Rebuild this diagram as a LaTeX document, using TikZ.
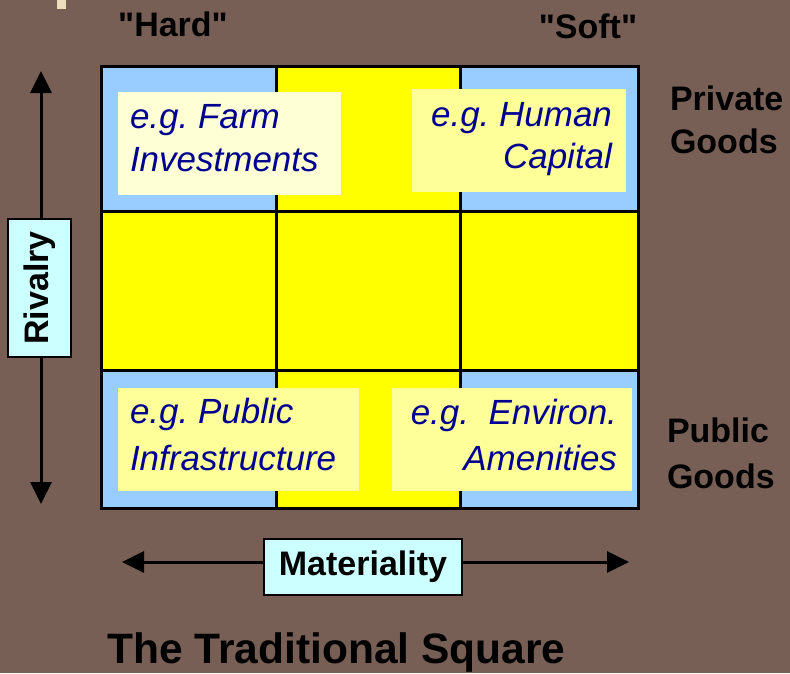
\documentclass[tikz,border=0pt]{standalone}
\usepackage{fontspec}
\setmainfont{Liberation Sans}
\newfontfamily\plainsans{Liberation Sans}
\usetikzlibrary{arrows.meta}
\frenchspacing
\definecolor{bgc}{HTML}{785F55}
\definecolor{cellblue}{HTML}{99CCFF}
\definecolor{cellyellow}{HTML}{FFFF00}
\definecolor{paleA}{HTML}{FFFFD5}
\definecolor{paleB}{HTML}{FFFF99}
\definecolor{navytext}{HTML}{000090}
\definecolor{cyanbox}{HTML}{CCFFFF}
\definecolor{markc}{HTML}{EEDDBB}
\tikzset{
  gridline/.style={line width=3pt, draw=black},
  palebox/.style={rectangle, inner sep=0pt, outer sep=0pt, draw=none},
  exline/.style={inner sep=0pt, outer sep=0pt, text=navytext, font=\fontsize{35}{42}\selectfont\itshape},
  lbl/.style={inner sep=0pt, outer sep=0pt, text=black, font=\fontsize{34}{40}\selectfont\bfseries},
  qlbl/.style={inner sep=0pt, outer sep=0pt, text=black, font=\plainsans\fontsize{34}{40}\selectfont\bfseries},
  axisbox/.style={rectangle, draw=black, line width=2.4pt, fill=cyanbox, inner sep=0pt, outer sep=0pt, font=\fontsize{34}{40}\selectfont\bfseries},
  axisarrow/.style={line width=3pt, -{Triangle[length=22pt, width=21pt]}},
}
\begin{document}
\begin{tikzpicture}[x=1pt,y=-1pt]
\fill[bgc] (0,0) rectangle (790,673);
\useasboundingbox (0,0) rectangle (790,673);
% small mark at top
\fill[markc] (57,0) rectangle (66,9);
% cells
\fill[cellyellow] (101,66) rectangle (638,508);
\fill[cellblue] (101,66) rectangle (276,211);
\fill[cellblue] (460,66) rectangle (638,211);
\fill[cellblue] (101,370) rectangle (276,508);
\fill[cellblue] (460,370) rectangle (638,508);
% grid lines
\draw[gridline] (101,66) rectangle (638,508);
\draw[gridline] (276,66) -- (276,508);
\draw[gridline] (460,66) -- (460,508);
\draw[gridline] (101,211) -- (638,211);
\draw[gridline] (101,370) -- (638,370);
% example boxes
\node[palebox, fill=paleA, minimum width=223pt, minimum height=103pt] (tlbox) at (229.5,143.5) {};
\node[palebox, fill=paleB, minimum width=214pt, minimum height=103pt] (trbox) at (519,140.5) {};
\node[palebox, fill=paleB, minimum width=241pt, minimum height=103pt] (blbox) at (238.5,439.5) {};
\node[palebox, fill=paleB, minimum width=240pt, minimum height=103pt] (brbox) at (512,439.5) {};
% example texts
\node[exline, anchor=base west] (tl1) at (130,128) {e.g. Farm};
\node[exline, anchor=base west] (tl2) at (130,171) {Investments};
\node[exline, anchor=base east] (tr1) at (612,126) {e.g. Human};
\node[exline, anchor=base east] (tr2) at (612,168) {Capital};
\node[exline, anchor=base west] (bl1) at (130,423) {e.g. Public};
\node[exline, anchor=base west] (bl2) at (130,470) {Infrastructure};
\node[exline, anchor=base east] (br1) at (617,424) {e.g.\ \ Environ.};
\node[exline, anchor=base east] (br2) at (617,470) {Amenities};
% column and row labels
\node[qlbl, anchor=base] (hard) at (173,36) {"Hard"};
\node[qlbl, anchor=base] (soft) at (588,38) {"Soft"};
\node[lbl, anchor=base west] (priv1) at (670,110) {Private};
\node[lbl, anchor=base west] (priv2) at (670,153) {Goods};
\node[lbl, anchor=base west] (pub1) at (667,442) {Public};
\node[lbl, anchor=base west] (pub2) at (667,488) {Goods};
% rivalry axis
\coordinate (rtop) at (41,71);
\coordinate (rbot) at (41,504);
\node[axisbox, minimum width=138pt, minimum height=63pt, rotate=90] (rbox) at (39.5,288) {Rivalry};
\draw[axisarrow] (rtop |- rbox.east) -- (rtop);
\draw[axisarrow] (rbot |- rbox.west) -- (rbot);
% materiality axis
\coordinate (mleft) at (122,562);
\coordinate (mright) at (629,562);
\node[axisbox, minimum width=198pt, minimum height=56pt] (mbox) at (363,567) {Materiality};
\draw[axisarrow] (mbox.west |- mleft) -- (mleft);
\draw[axisarrow] (mbox.east |- mright) -- (mright);
% title
\node[inner sep=0pt, anchor=base west, font=\fontsize{42.5}{50}\selectfont\bfseries] (title) at (107,663) {The Traditional Square};
\end{tikzpicture}
\end{document}
